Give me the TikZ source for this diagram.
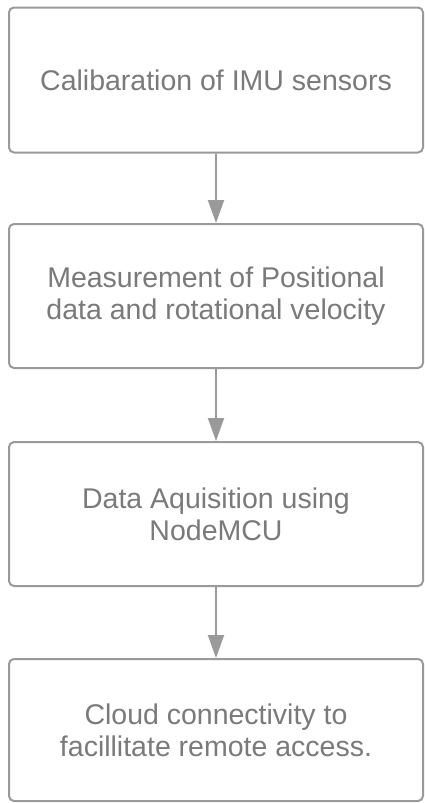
\documentclass[tikz,border=0pt]{standalone}
\usepackage{fontspec}
\setmainfont{Liberation Sans}
\usetikzlibrary{arrows.meta}
\definecolor{boxgray}{HTML}{9A9A9A}
\definecolor{txtgray}{HTML}{7A7A7A}
\begin{document}
\begin{tikzpicture}[x=1pt,y=-1pt,
  flowbox/.style={draw=boxgray, line width=2pt, rounded corners=5pt, fill=white,
    minimum width=414pt, align=center, text=txtgray,
    font=\fontsize{28.5}{32}\selectfont, inner sep=0pt},
  flowarrow/.style={draw=boxgray, line width=2pt,
    -{Triangle[length=23pt,width=16pt]}}]
\useasboundingbox (0,0) rectangle (425,803);
\node[flowbox, minimum height=145pt] (b1) at (216,80) {Calibaration of IMU sensors};
\node[flowbox, minimum height=144pt] (b2) at (216,296) {Measurement of Positional\\data and rotational velocity};
\node[flowbox, minimum height=144pt] (b3) at (216,514) {Data Aquisition using\\NodeMCU};
\node[flowbox, minimum height=142pt] (b4) at (216,730) {Cloud connectivity to\\facillitate remote access.};
\draw[flowarrow] (b1.south) -- (b2.north);
\draw[flowarrow] (b2.south) -- (b3.north);
\draw[flowarrow] (b3.south) -- (b4.north);
\end{tikzpicture}
\end{document}
